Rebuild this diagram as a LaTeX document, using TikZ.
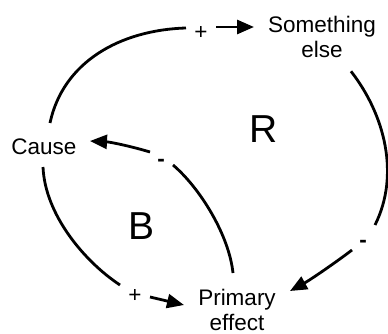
\documentclass[tikz,border=0pt]{standalone}
\usepackage{fontspec}
\setmainfont{Liberation Sans}
\usetikzlibrary{arrows.meta,calc}
\begin{document}
\begin{tikzpicture}[x=1pt,y=-1pt,
  lbl/.style={inner sep=0pt, font=\fontsize{22.5}{25}\selectfont, align=center},
  big/.style={inner sep=0pt, font=\fontsize{39}{40}\selectfont},
  sgn/.style={inner sep=0pt, font=\fontsize{22.5}{25}\selectfont},
  neg/.style={inner sep=0pt, font=\fontsize{22.5}{25}\selectfont\bfseries},
  link/.style={line width=2.8pt},
  arr/.style={link, -{Triangle[length=17pt,width=14pt]}}]
\useasboundingbox (0,0) rectangle (388,334);
% nodes
\node[lbl] (cause) at (44,147) {Cause};
\node[lbl] (se) at (322,37.3) {Something\\else};
\node[lbl] (pe) at (237,310) {Primary\\effect};
\node[big] (R) at (264,129) {R};
\node[big] (B) at (141.5,226) {B};
% signs
\node[sgn] (p1) at (201,33) {+};
\node[neg] (m1) at (363,244) {-};
\node[neg] (m2) at (161,163) {-};
\node[sgn] (p2) at (135,296) {+};
% Cause -> Something else
\draw[link] ($(cause)+(6,-24)$) .. controls (63,62) and (120,30) .. ($(p1)+(-15,-5)$);
\draw[arr] ($(p1)+(15,-6)$) -- ($(se.west)+(-14,-10.3)$);
% Something else -> Primary effect
\draw[link] ($(se)+(29,34)$) .. controls (385,115) and (400,175) .. ($(m1)+(12,-19)$);
\draw[arr] ($(m1)+(-11,6)$) .. controls (335,263) and (310,280) .. ($(pe)+(53,-19)$);
% Primary effect -> Cause
\draw[link] ($(pe)+(-4,-37)$) .. controls (229,235) and (200,188) .. ($(m2)+(12,2)$);
\draw[arr] ($(m2)+(-11,-11)$) .. controls (130,146) and (110,142) .. ($(cause)+(46,-6)$);
% Cause -> Primary effect
\draw[link] ($(cause)+(-1,20)$) .. controls (45,215) and (85,262) .. ($(p2)+(-15,-11)$);
\draw[arr] ($(p2)+(15,1)$) -- ($(pe)+(-53,-5)$);
\end{tikzpicture}
\end{document}
